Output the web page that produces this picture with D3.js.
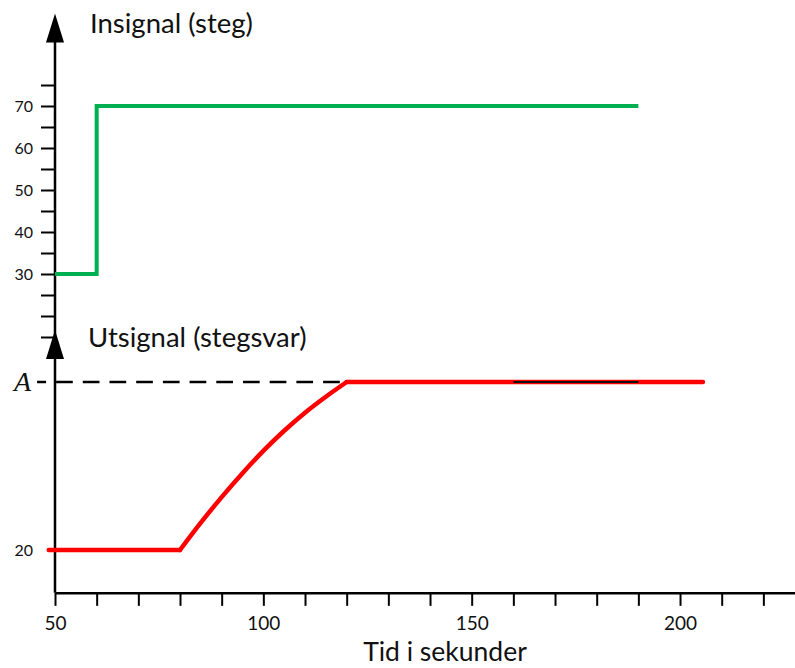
<!DOCTYPE html>
<html>
<head>
<meta charset="utf-8">
<script src="https://cdn.jsdelivr.net/npm/d3@7"></script>
<style>
  body { margin: 0; background: #fff; }
  text { font-family: Lato, "Open Sans", sans-serif; fill: #111; }
</style>
</head>
<body>
<div id="chart"></div>
<script>
// Insignal (steg): time in s, value
const inTime = [50, 60, 190];
const inValue = [30, 70, 70];

// Utsignal (stegsvar)
const outTime = [48.5, 80, 85, 90, 95, 100, 105, 110, 115, 120, 205.5];
const outValue = [20, 20, 26.5, 32.6, 38.3, 43.6, 48.4, 52.7, 56.5, 60, 60];

// short black piece on top of the red line
const markTime = [160, 190];

const levelA = 60;
const xTicks = d3.range(50, 221, 10);
const xLabels = [50, 100, 150, 200];
const inTicks = d3.range(15, 76, 5);
const inLabels = [30, 40, 50, 60, 70];
const outLabels = [20];

const width = 795, height = 668;

const svg = d3.select("#chart")
    .append("svg")
    .attr("width", width)
    .attr("height", height);

// scales
const x = d3.scaleLinear().domain([50, 228]).range([55, 796.7]);
const yIn = d3.scaleLinear().domain([30, 70]).range([274, 106]);
const yOut = d3.scaleLinear().domain([20, 60]).range([550, 382]);

const inTop = 92;     // arrow tip of the upper axis
const outTop = 72.4;  // arrow tip of the lower axis
const outBase = 9.8;  // where the time axis sits

// time axis
const xAxis = svg.append("g")
    .attr("transform", `translate(0,${yOut(outBase)})`)
    .call(d3.axisBottom(x)
        .tickValues(xTicks)
        .tickSize(13)
        .tickSizeOuter(0)
        .tickPadding(11)
        .tickFormat(d => xLabels.includes(d) ? d : ""));
xAxis.select(".domain").attr("stroke", "#000").attr("stroke-width", 2.5);
xAxis.selectAll(".tick line").attr("stroke", "#000").attr("stroke-width", 2);
xAxis.selectAll("text").style("font-size", "19px").attr("fill", "#111");

// left axis, upper panel
const inAxis = svg.append("g")
    .attr("transform", `translate(${x(50)},0)`)
    .call(d3.axisLeft(yIn)
        .tickValues(inTicks)
        .tickSize(14)
        .tickPadding(8)
        .tickFormat(d => inLabels.includes(d) ? d : ""));
inAxis.select(".domain").remove();
inAxis.selectAll(".tick line").attr("stroke", "#000").attr("stroke-width", 2);
inAxis.selectAll("text").style("font-size", "16px").attr("fill", "#111");

// left axis, lower panel (only the 20 label)
const outAxis = svg.append("g")
    .attr("transform", `translate(${x(50)},0)`)
    .call(d3.axisLeft(yOut)
        .tickValues(outLabels)
        .tickSize(0)
        .tickPadding(22));
outAxis.select(".domain").remove();
outAxis.selectAll("text").style("font-size", "16px").attr("fill", "#111");

// vertical axis line through both panels
svg.append("line")
    .attr("x1", x(50)).attr("x2", x(50))
    .attr("y1", yIn(inTop) + 20)
    .attr("y2", yOut(outBase))
    .attr("stroke", "#000")
    .attr("stroke-width", 2.5);

// arrow heads
[yIn(inTop), yOut(outTop)].forEach(tip => {
    svg.append("path")
        .attr("d", `M${x(50)},${tip} L${x(50) - 9},${tip + 29} L${x(50) + 9},${tip + 29} Z`)
        .attr("fill", "#000");
});

// dashed A level
svg.append("line")
    .attr("x1", x(45.7)).attr("x2", x(120))
    .attr("y1", yOut(levelA)).attr("y2", yOut(levelA))
    .attr("stroke", "#000")
    .attr("stroke-width", 2.5)
    .attr("stroke-dasharray", "16.7,10")
    .attr("stroke-dashoffset", 7.7);

// insignal
const inLine = d3.line()
    .x((d, i) => x(inTime[i]))
    .y((d, i) => yIn(inValue[i]))
    .curve(d3.curveStepAfter);

svg.append("path")
    .attr("d", inLine(inTime))
    .attr("fill", "none")
    .attr("stroke", "#00b050")
    .attr("stroke-width", 4);

// utsignal: flat, smooth rise, flat (split so the corners stay sharp)
const outPts = outTime.map((t, i) => [t, outValue[i]]);
const outLine = d3.line()
    .x(d => x(d[0]))
    .y(d => yOut(d[1]))
    .curve(d3.curveMonotoneX);

const riseStart = outTime.indexOf(80), riseEnd = outTime.indexOf(120);
[outPts.slice(0, riseStart + 1), outPts.slice(riseStart, riseEnd + 1), outPts.slice(riseEnd)]
    .forEach(seg => {
        svg.append("path")
            .attr("d", outLine(seg))
            .attr("fill", "none")
            .attr("stroke", "#ff0000")
            .attr("stroke-width", 4.5)
            .attr("stroke-linejoin", "round")
            .attr("stroke-linecap", "round");
    });

svg.append("line")
    .attr("x1", x(markTime[0])).attr("x2", x(markTime[1]))
    .attr("y1", yOut(levelA)).attr("y2", yOut(levelA))
    .attr("stroke", "#111")
    .attr("stroke-width", 2);

// texts
svg.append("text")
    .attr("x", x(50) - 24)
    .attr("y", yOut(levelA) + 9)
    .attr("text-anchor", "end")
    .style("font-family", "'Liberation Serif', serif")
    .style("font-style", "italic")
    .style("font-size", "28px")
    .text("A");

svg.append("text")
    .attr("x", 90).attr("y", 33)
    .style("font-size", "27.5px")
    .text("Insignal (steg)");

svg.append("text")
    .attr("x", 88).attr("y", 346.5)
    .style("font-size", "27.5px")
    .text("Utsignal (stegsvar)");

svg.append("text")
    .attr("x", 445).attr("y", 661)
    .attr("text-anchor", "middle")
    .style("font-size", "26.5px")
    .text("Tid i sekunder");
</script>
</body>
</html>
